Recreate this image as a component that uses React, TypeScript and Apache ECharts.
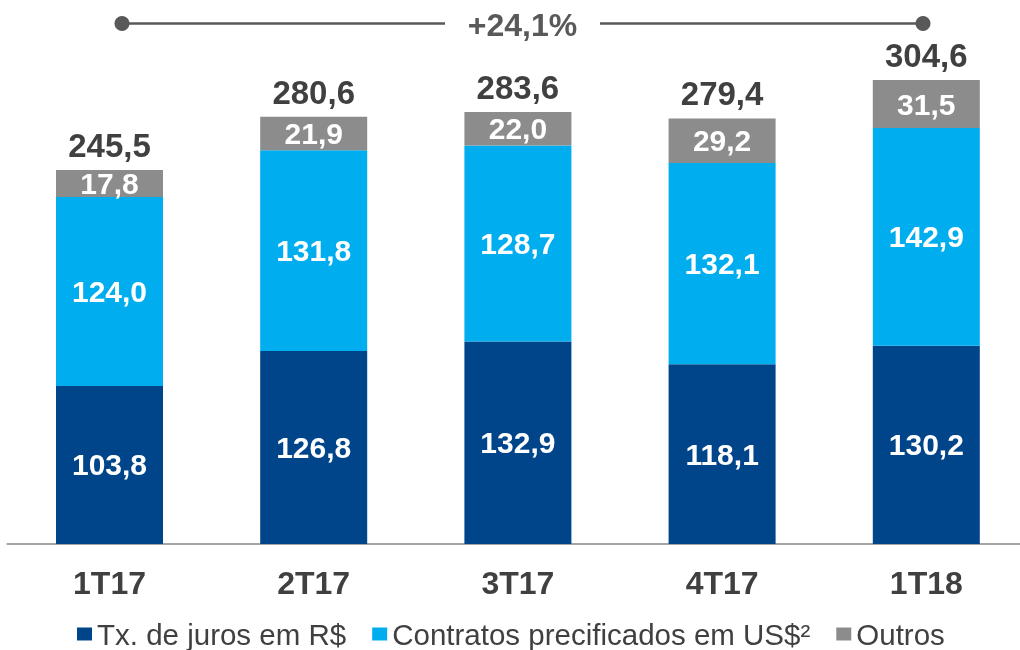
import React, { useEffect, useRef } from "react";
import * as echarts from "echarts";

const categories = ["1T17", "2T17", "3T17", "4T17", "1T18"];
const jurosRS = [103.8, 126.8, 132.9, 118.1, 130.2];
const contratosUS = [124.0, 131.8, 128.7, 132.1, 142.9];
const outros = [17.8, 21.9, 22.0, 29.2, 31.5];
const totals = [245.5, 280.6, 283.6, 279.4, 304.6];
const seriesNames = ["Tx. de juros em R$", "Contratos precificados em US$²", "Outros"];
const growthLabel = "+24,1%";

const FONT = '"Liberation Sans", Arial, sans-serif';
const fmt = (v: number) => v.toFixed(1).replace(".", ",");

export default function App() {
  const ref = useRef<HTMLDivElement>(null);
  useEffect(() => {
    if (!ref.current) return;
    const chart = echarts.init(ref.current, null, { renderer: "svg" });
    const inside = {
      show: true,
      position: "inside" as const,
      color: "#ffffff",
      fontFamily: FONT,
      fontWeight: "bold" as const,
      fontSize: 30,
      formatter: (p: any) => fmt(p.value),
    };
    chart.setOption({
      animation: false,
      textStyle: { fontFamily: FONT },
      grid: { left: 7.4, top: 0, width: 1021, height: 544, containLabel: false },
      xAxis: {
        type: "category",
        data: categories,
        axisLine: { show: true, lineStyle: { color: "#a6a6a6", width: 2 } },
        axisTick: { show: false },
        axisLabel: {
          margin: 23,
          color: "#404040",
          fontFamily: FONT,
          fontWeight: "bold",
          fontSize: 32,
        },
      },
      yAxis: {
        type: "value",
        min: 0,
        max: 357.2,
        show: false,
        splitLine: { show: false },
      },
      legend: {
        data: seriesNames,
        left: 77,
        top: 619,
        padding: 0,
        icon: "rect",
        itemWidth: 15,
        itemHeight: 13,
        itemGap: 26,
        textStyle: { color: "#404040", fontFamily: FONT, fontSize: 29.5, lineHeight: 26 },
      },
      series: [
        {
          name: seriesNames[0],
          type: "bar",
          stack: "total",
          barWidth: 107,
          data: jurosRS,
          itemStyle: { color: "#00448A" },
          label: inside,
        },
        {
          name: seriesNames[1],
          type: "bar",
          stack: "total",
          barWidth: 107,
          data: contratosUS,
          itemStyle: { color: "#00AEEF" },
          label: inside,
        },
        {
          name: seriesNames[2],
          type: "bar",
          stack: "total",
          barWidth: 107,
          data: outros,
          itemStyle: { color: "#8C8C8C" },
          label: inside,
        },
        {
          name: "Total",
          type: "scatter",
          data: totals,
          symbolSize: 0,
          silent: true,
          itemStyle: { opacity: 1, color: "#404040" },
          label: {
            show: true,
            position: "top",
            distance: 8,
            color: "#404040",
            opacity: 1,
            fontFamily: FONT,
            fontWeight: "bold",
            fontSize: 33,
            formatter: (p: any) => fmt(p.value),
          },
        },
      ],
      graphic: [
        {
          type: "line",
          shape: { x1: 122, y1: 23.5, x2: 445, y2: 23.5 },
          style: { stroke: "#595959", lineWidth: 2.5 },
        },
        {
          type: "line",
          shape: { x1: 600, y1: 23.5, x2: 923, y2: 23.5 },
          style: { stroke: "#595959", lineWidth: 2.5 },
        },
        { type: "circle", shape: { cx: 122, cy: 23.5, r: 7.5 }, style: { fill: "#595959" } },
        { type: "circle", shape: { cx: 923, cy: 23.5, r: 7.5 }, style: { fill: "#595959" } },
        {
          type: "text",
          x: 522.5,
          y: 25,
          style: {
            text: growthLabel,
            fill: "#595959",
            font: `bold 32px ${FONT}`,
            align: "center",
            verticalAlign: "middle",
          },
        },
      ],
    });
    return () => chart.dispose();
  }, []);
  return (
    <div
      ref={ref}
      style={{ position: "fixed", left: 0, top: 0, width: 1032, height: 650 }}
    />
  );
}
